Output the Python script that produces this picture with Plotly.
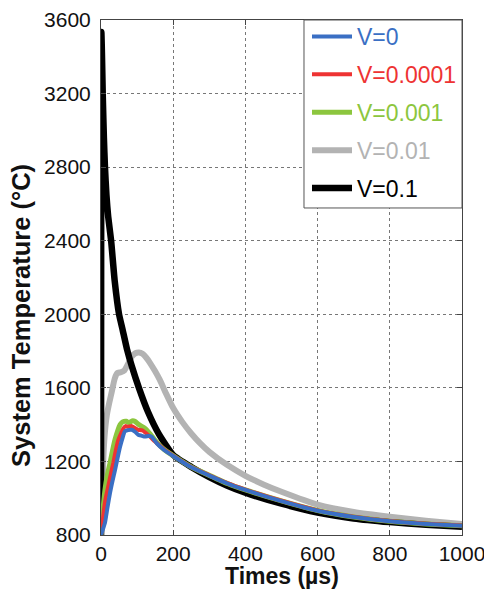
import plotly.graph_objects as go

# ---- data ----
series_names = ["V=0", "V=0.0001", "V=0.001", "V=0.01", "V=0.1"]
series_colors = ["#3a6fc4", "#ee3333", "#8cc63e", "#b3b3b3", "#000000"]

t_v0 = [0, 5, 11, 18, 25, 32, 39, 46, 53, 60, 66, 75, 85, 95, 103, 112, 122, 132, 140, 154,
        175, 205, 250, 300, 350, 400, 500, 600, 700, 800, 900, 1000]
T_v0 = [800, 830, 866, 950, 1029, 1095, 1155, 1220, 1281, 1330, 1363, 1370, 1372, 1360, 1345, 1340, 1335, 1338, 1335, 1300,
        1262, 1223, 1168, 1123, 1080, 1045, 984, 932, 898, 875, 860, 850]

t_v1 = [0, 3, 6, 12, 20, 27, 34, 41, 48, 55, 62, 68, 75, 85, 95, 103, 115, 130, 150,
        175, 205, 250, 300, 350, 400, 500, 600, 700, 800, 900, 1000]
T_v1 = [800, 830, 900, 990, 1064, 1130, 1191, 1260, 1317, 1350, 1380, 1392, 1388, 1392, 1380, 1372, 1368, 1345, 1308,
        1265, 1225, 1170, 1125, 1082, 1047, 986, 934, 899, 876, 861, 851]

t_v2 = [0, 2, 4, 8, 11, 18, 25, 32, 39, 46, 53, 60, 70, 78, 86, 94, 105, 122, 136, 150,
        175, 205, 250, 288, 350, 400, 500, 600, 700, 800, 900, 1000]
T_v2 = [800, 830, 900, 990, 1046, 1130, 1192, 1260, 1320, 1365, 1400, 1415, 1418, 1410, 1420, 1418, 1400, 1380, 1350, 1315,
        1265, 1225, 1170, 1135, 1080, 1045, 985, 933, 898, 875, 860, 850]

t_v3 = [0, 2, 4, 6, 10, 16, 23, 30, 38, 45, 55, 65, 76, 85, 95, 105, 115, 125, 136, 150,
        163, 180, 200, 225, 250, 275, 300, 350, 400, 450, 500, 600, 700, 800, 900, 1000]
T_v3 = [800, 840, 1000, 1190, 1340, 1450, 1520, 1580, 1650, 1680, 1685, 1695, 1735, 1770, 1788, 1792, 1785, 1765, 1735, 1690,
        1643, 1570, 1490, 1415, 1352, 1298, 1252, 1180, 1122, 1075, 1035, 965, 925, 899, 878, 860]

t_v4 = [0, 0.5, 1, 2, 3, 5, 8, 11, 15, 20, 28, 38, 50, 60, 72, 85, 105, 130, 160, 200,
        250, 300, 350, 400, 500, 600, 700, 800, 900, 1000]
T_v4 = [800, 2600, 3535, 3470, 3380, 3180, 2960, 2800, 2650, 2530, 2400, 2180, 2000, 1915, 1810, 1720, 1600, 1470, 1350, 1235,
        1170, 1115, 1068, 1030, 970, 922, 890, 870, 855, 845]

x_ticks = [0, 200, 400, 600, 800, 1000]
y_ticks = [800, 1200, 1600, 2000, 2400, 2800, 3200, 3600]

times = [t_v0, t_v1, t_v2, t_v3, t_v4]
temps = [T_v0, T_v1, T_v2, T_v3, T_v4]
widths = [4, 4, 5, 6, 6.5]

FONT = "Arial, Liberation Sans, sans-serif"

fig = go.Figure()
draw_order = [3, 4, 2, 1, 0]
for i in draw_order:
    fig.add_trace(go.Scatter(
        x=times[i], y=temps[i], mode="lines",
        name=f"<span style='color:{series_colors[i]}'>{series_names[i]}</span>",
        line=dict(color=series_colors[i], width=widths[i], shape="spline", smoothing=0.5),
        legendrank=i + 1, legendgroup=f"g{i}",
    ))

axis_common = dict(
    showline=True, linecolor="#444", linewidth=1, mirror="ticks",
    ticks="inside", ticklen=5, tickcolor="#444",
    showgrid=True, gridcolor="#777", griddash="dot", gridwidth=1,
    zeroline=False, automargin=False,
    tickfont=dict(family=FONT, size=21, color="#111"),
)

fig.update_xaxes(range=[0, 1000], tickvals=x_ticks, **axis_common)
fig.update_yaxes(range=[800, 3600], tickvals=y_ticks, ticklabelstandoff=5, **axis_common)

# page body adds an 8px offset, so the figure is sized/margined to compensate
fig.update_layout(
    width=484, height=583,
    margin=dict(l=93, r=30, t=12, b=56, autoexpand=False),
    paper_bgcolor="white", plot_bgcolor="white",
    font=dict(family=FONT),
    showlegend=True,
    legend=dict(
        x=1, y=1.0097, xanchor="right", yanchor="top",
        bgcolor="rgba(0,0,0,0)", borderwidth=0,
        font=dict(family=FONT, size=23),
        traceorder="grouped", tracegroupgap=5,
        itemwidth=40,
    ),
    shapes=[
        dict(type="rect", xref="paper", yref="paper", x0=0.5623, x1=1, y0=0.635, y1=1,
             line=dict(color="#555", width=1), fillcolor="white", layer="above"),
    ],
    annotations=[
        dict(text="<b>Times (µs)</b>", xref="paper", yref="paper",
             x=0.5, y=-0.0796, xanchor="center", yanchor="middle",
             showarrow=False, font=dict(family=FONT, size=23, color="#111")),
        dict(text="<b>System Temperature (°C)</b>", xref="paper", yref="paper",
             x=-0.222, y=0.427, xanchor="center", yanchor="middle", textangle=-90,
             showarrow=False, font=dict(family=FONT, size=25.5, color="#111")),
    ],
)

fig.write_html("out.html")
